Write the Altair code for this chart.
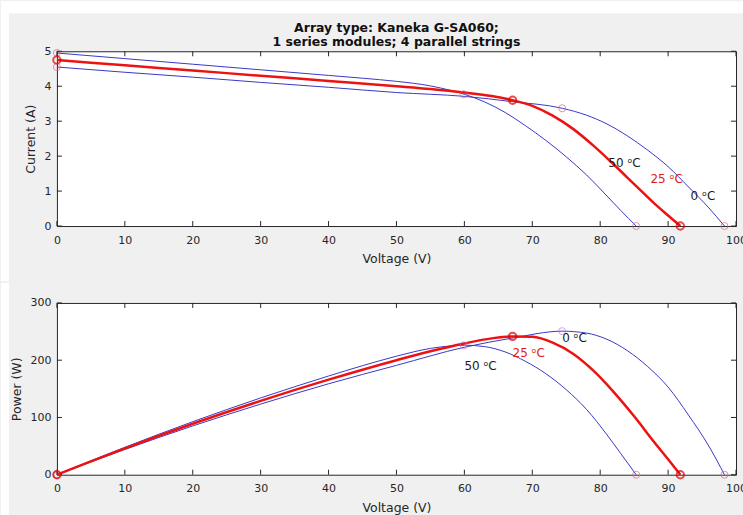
import altair as alt
import pandas as pd

# ---- data ----
temps = [50, 25, 0]
labels = ["50 ᵒC", "25 ᵒC", "0 ᵒC"]

v50 = [0, 10, 20, 30, 40, 45, 50, 55, 58, 60, 63, 66, 69, 72, 75, 78, 81, 83, 85.3]
i50 = [4.95, 4.79, 4.63, 4.47, 4.31, 4.23, 4.14, 4.01, 3.88, 3.77, 3.55, 3.25, 2.87, 2.45, 1.98, 1.46, 0.86, 0.45, 0]
p50 = [0, 47.9, 92.6, 134.1, 172.4, 190.4, 207.0, 220.6, 225.0, 226.2, 223.7, 214.5, 198.0, 176.4, 148.5, 113.9, 69.7, 37.4, 0]

v25 = [0, 10, 20, 30, 40, 50, 55, 60, 64, 67.1, 70, 73, 76, 79, 82, 85, 88, 90, 91.8]
i25 = [4.75, 4.60, 4.45, 4.30, 4.15, 4.00, 3.92, 3.82, 3.72, 3.60, 3.44, 3.16, 2.78, 2.30, 1.76, 1.20, 0.64, 0.30, 0]
p25 = [0, 46.0, 89.0, 129.0, 166.0, 200.0, 215.6, 229.2, 238.1, 241.6, 240.8, 230.7, 211.3, 181.7, 144.3, 102.0, 56.3, 27.0, 0]

v0 = [0, 10, 20, 30, 40, 50, 60, 67, 74.4, 78, 81, 84, 87, 90, 93, 96, 98.3]
i0 = [4.55, 4.40, 4.26, 4.11, 3.97, 3.82, 3.71, 3.56, 3.37, 3.17, 2.92, 2.58, 2.17, 1.70, 1.12, 0.52, 0]
p0 = [0, 44.0, 85.2, 123.3, 158.8, 191.0, 222.6, 238.5, 250.7, 247.3, 236.5, 216.7, 188.8, 153.0, 104.2, 49.9, 0]

# marked points: short-circuit, maximum-power and open-circuit points
isc = [4.95, 4.75, 4.55]
vmp = [59.9, 67.1, 74.4]
imp = [3.77, 3.60, 3.37]
pmp = [226.0, 241.6, 250.7]
voc = [85.3, 91.8, 98.3]

# text label anchors
lab_v_top = [81.2, 87.4, 93.3]
lab_i_top = [1.80, 1.34, 0.86]
lab_v_bot = [60.0, 67.1, 74.4]
lab_p_bot = [190.0, 213.0, 239.0]

xticks = list(range(0, 101, 10))
iticks = [0, 1, 2, 3, 4, 5]
pticks = [0, 100, 200, 300]

title_lines = ["Array type: Kaneka G-SA060;", "1 series modules; 4 parallel strings"]

# ---- tables ----
rows = []
for t, vs, is_, ps in [(50, v50, i50, p50), (25, v25, i25, p25), (0, v0, i0, p0)]:
    for v, i, p in zip(vs, is_, ps):
        rows.append({"V": v, "I": i, "P": p, "T": t})
curves = pd.DataFrame(rows)

pts = []
for k, t in enumerate(temps):
    pts.append({"V": 0, "I": isc[k], "P": 0, "T": t, "kind": "isc"})
    pts.append({"V": vmp[k], "I": imp[k], "P": pmp[k], "T": t, "kind": "mpp"})
    pts.append({"V": voc[k], "I": 0, "P": 0, "T": t, "kind": "voc"})
points = pd.DataFrame(pts)

text_top = pd.DataFrame({"V": lab_v_top, "I": lab_i_top, "txt": labels,
                         "c": ["#1a1a1a", "#e01818", "#1a1a1a"]})
text_bot = pd.DataFrame({"V": lab_v_bot, "P": lab_p_bot, "txt": labels,
                         "c": ["#1a1a1a", "#e01818", "#1a1a1a"]})

W, H1, H2 = 680, 175, 172
FONT = "DejaVu Sans"
BLUE = "#3838c8"
RED = "#ee1111"
PINK = "#dd6677"
VIOLET = "#c87ad8"
AX = "#262626"

xscale = alt.Scale(domain=[0, 100], nice=False, zero=False)
iscale = alt.Scale(domain=[0, 5], nice=False)
pscale = alt.Scale(domain=[0, 300], nice=False)

xaxis = alt.Axis(values=xticks, title="Voltage (V)", labelFlush=False, ticks=False,
                 domain=False, grid=False, labelPadding=8, titlePadding=8, zindex=1)

one = pd.DataFrame({"a": [0]})


def panel(ycol, yscale, yticks, ytitle, H, strips, text_df, mpp_color):
    yaxis = alt.Axis(values=yticks, title=ytitle, ticks=False, domain=False, grid=False,
                     labelPadding=6, titlePadding=6, zindex=1)
    X = lambda f: alt.X(f, scale=xscale, axis=xaxis)
    Y = lambda f: alt.Y(f, scale=yscale, axis=yaxis)
    layers = []
    for (x1, x2, y1, y2) in strips:
        layers.append(alt.Chart(one).mark_rect(color="white").encode(
            x=alt.value(x1), x2=alt.value(x2), y=alt.value(y1), y2=alt.value(y2)))
    xt = pd.DataFrame({"v": xticks})
    yt = pd.DataFrame({"v": yticks})
    tx_b = alt.Chart(xt).mark_rule(color=AX, strokeWidth=1).encode(
        x=X("v:Q"), y=alt.value(H - 5), y2=alt.value(H))
    tx_t = alt.Chart(xt).mark_rule(color=AX, strokeWidth=1).encode(
        x=X("v:Q"), y=alt.value(0), y2=alt.value(5))
    ty_l = alt.Chart(yt).mark_rule(color=AX, strokeWidth=1).encode(
        y=Y("v:Q"), x=alt.value(0), x2=alt.value(5))
    ty_r = alt.Chart(yt).mark_rule(color=AX, strokeWidth=1).encode(
        y=Y("v:Q"), x=alt.value(W - 5), x2=alt.value(W))
    blue = alt.Chart(curves).transform_filter("datum.T != 25").mark_line(
        color=BLUE, strokeWidth=1, interpolate="monotone").encode(
        x=X("V:Q"), y=Y(f"{ycol}:Q"), detail="T:N")
    red = alt.Chart(curves).transform_filter("datum.T == 25").mark_line(
        color=RED, strokeWidth=2.5, interpolate="monotone").encode(
        x=X("V:Q"), y=Y(f"{ycol}:Q"))
    thin = alt.Chart(points).transform_filter("datum.T != 25").mark_point(
        shape="circle", filled=False, size=50, strokeWidth=1).encode(
        x=X("V:Q"), y=Y(f"{ycol}:Q"),
        color=alt.condition("datum.kind == 'mpp'", alt.value(mpp_color), alt.value(PINK)))
    thick = alt.Chart(points).transform_filter("datum.T == 25").mark_point(
        shape="circle", filled=False, size=55, strokeWidth=2, color="#e00000").encode(
        x=X("V:Q"), y=Y(f"{ycol}:Q"))
    txt = alt.Chart(text_df).mark_text(align="left", baseline="middle", fontSize=12,
                                       font=FONT).encode(
        x=X("V:Q"), y=Y(f"{ycol}:Q"),
        text="txt:N", color=alt.Color("c:N", scale=None))
    return layers + [tx_b, tx_t, ty_l, ty_r, blue, red, thin, thick, txt]


# white page margin strips (top and left) around the grey figure area
top_strips = [(-56, 743 - 56, -50, -38), (-56, -48, -50, 230)]
bot_strips = [(-56, -48, -20, 215)]

top_layers = panel("I", iscale, iticks, "Current (A)", H1, top_strips, text_top, PINK)
title_marks = []
for k, line in enumerate(title_lines):
    title_marks.append(alt.Chart(one).mark_text(
        font=FONT, fontSize=12.5, fontWeight="bold", color="#111111",
        align="center", baseline="middle").encode(
        text=alt.value(line), x=alt.value(W / 2), y=alt.value(-23 + 14 * k)))
top = alt.layer(*top_layers, *title_marks).properties(width=W, height=H1)

bottom = alt.layer(*panel("P", pscale, pticks, "Power (W)", H2, bot_strips, text_bot,
                          VIOLET)).properties(width=W, height=H2)

chart = alt.vconcat(top, bottom, spacing=0).properties(
    background="#f0f0f0",
    padding={"left": 0, "top": 0, "right": -4, "bottom": 0},
).configure_view(stroke=AX, strokeWidth=1, fill="white").configure_axis(
    labelFont=FONT, titleFont=FONT, labelFontSize=11, titleFontSize=12.5,
    labelColor=AX, titleColor=AX, titleFontWeight="normal",
)

chart.save("out.html", embed_options={"renderer": "svg", "actions": False})
